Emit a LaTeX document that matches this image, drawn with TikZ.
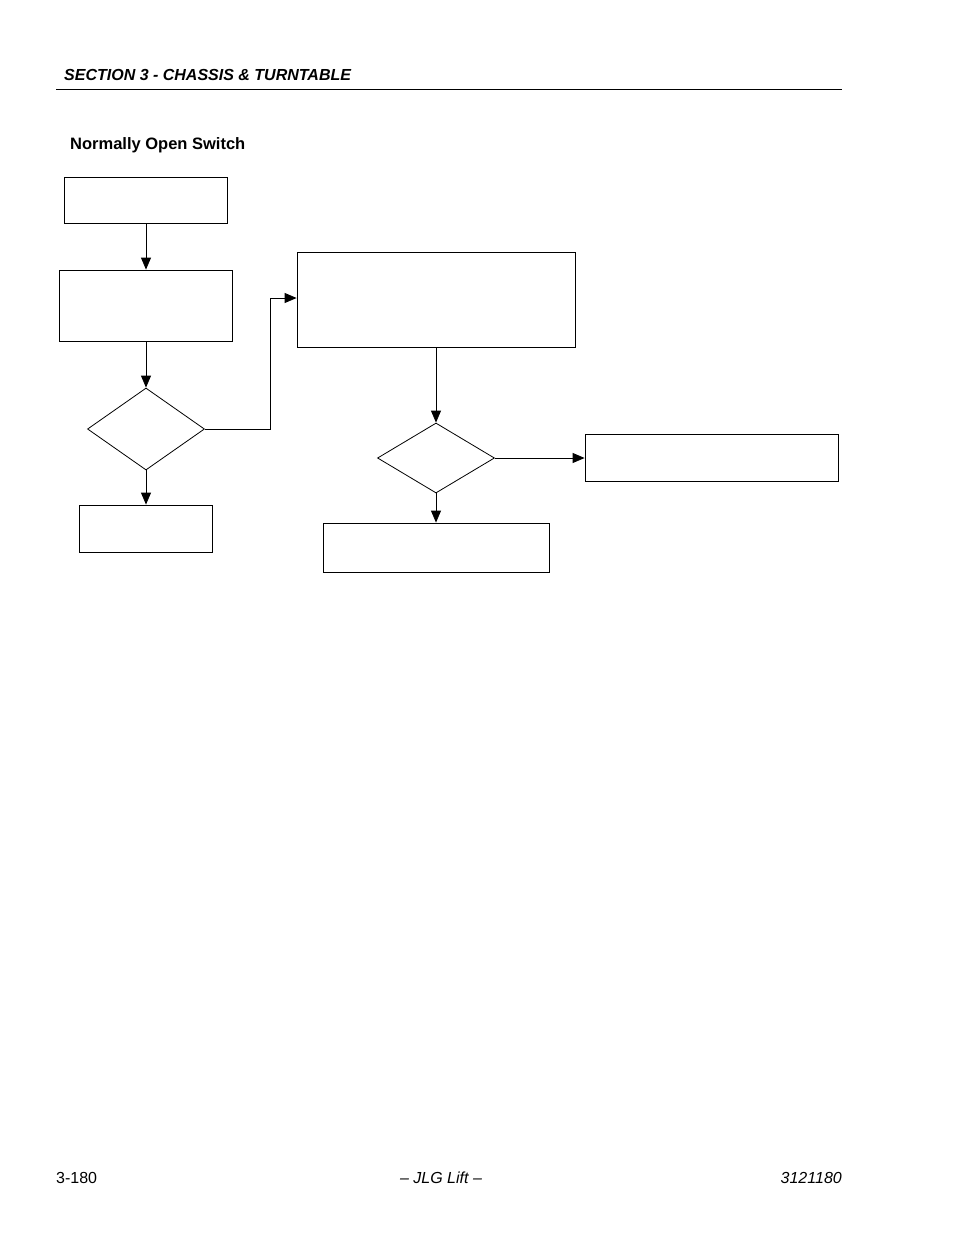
\documentclass[tikz,border=0pt]{standalone}
\usepackage{fontspec}
\setmainfont{Liberation Sans}
\usetikzlibrary{shapes.geometric,arrows.meta}
\begin{document}
\begin{tikzpicture}[x=1pt,y=-1pt,
  box/.style={draw,line width=0.8pt},
  arr/.style={-{Triangle[length=12pt,width=10pt]},line width=0.8pt},
  txt/.style={font=\fontsize{16}{18}\selectfont,inner sep=0pt}]
\useasboundingbox (0,0) rectangle (954,1235);
\node[txt,anchor=west,font=\fontsize{16}{18}\selectfont\bfseries\itshape] (hdr) at (64,75) {SECTION 3 - CHASSIS \& TURNTABLE};
\draw[line width=0.8pt] (56,89) -- (842,89);
\node[txt,anchor=west,font=\fontsize{16.5}{18}\selectfont\bfseries] (ttl) at (70,145) {Normally Open Switch};
\node[box,minimum width=163pt,minimum height=46pt] (b1) at (146,200) {};
\node[box,minimum width=173pt,minimum height=71pt] (b2) at (146,305.5) {};
\node[box,diamond,aspect=1.45,minimum width=117pt,minimum height=82pt,inner sep=0pt] (d1) at (146,429) {};
\node[box,minimum width=133pt,minimum height=47pt] (b3) at (146,528.5) {};
\node[box,minimum width=278pt,minimum height=95pt] (b4) at (436,299.5) {};
\node[box,diamond,aspect=1.67,minimum width=117pt,minimum height=70pt,inner sep=0pt] (d2) at (436,458) {};
\node[box,minimum width=253pt,minimum height=47pt] (b5) at (711.5,457.5) {};
\node[box,minimum width=226pt,minimum height=49pt] (b6) at (436,547.5) {};
\draw[arr] (b1.south) -- (b2.north);
\draw[arr] (b2.south) -- (d1.north);
\draw[arr] (d1.east) -- (270,429) -- (270,298) -- (b4.west |- 0,298);
\draw[arr] (d1.south) -- (b3.north);
\draw[arr] (b4.south) -- (d2.north);
\draw[arr] (d2.east) -- (b5.west |- d2.east);
\draw[arr] (d2.south) -- (b6.north);
\node[txt,anchor=west] (pg) at (56,1178) {3-180};
\node[txt,font=\fontsize{16}{18}\selectfont\itshape] (ft) at (441,1178) {– JLG Lift –};
\node[txt,anchor=east,font=\fontsize{16}{18}\selectfont\itshape] (doc) at (842,1178) {3121180};
\end{tikzpicture}
\end{document}
